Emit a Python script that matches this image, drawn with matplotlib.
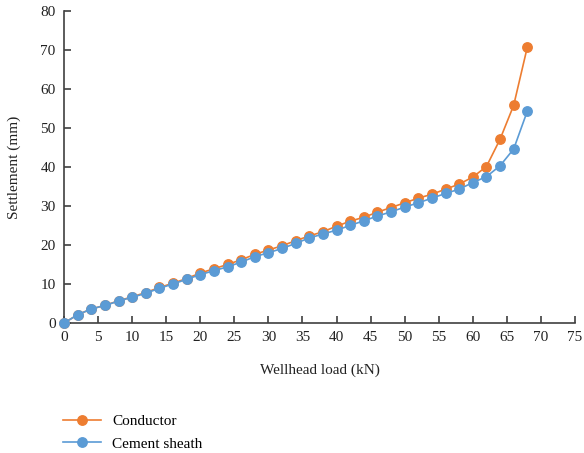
import matplotlib
matplotlib.use("Agg")
import matplotlib.pyplot as plt

# wellhead load (kN)
load = [0, 2, 4, 6, 8, 10, 12, 14, 16, 18, 20, 22, 24, 26, 28, 30, 32, 34,
        36, 38, 40, 42, 44, 46, 48, 50, 52, 54, 56, 58, 60, 62, 64, 66, 68]

# settlement (mm)
conductor = [0.0, 2.1, 3.6, 4.5, 5.7, 6.7, 7.8, 9.1, 10.2, 11.4, 12.8, 13.9,
             15.0, 16.2, 17.6, 18.7, 19.8, 21.1, 22.3, 23.4, 24.8, 26.1,
             27.1, 28.4, 29.6, 30.8, 32.0, 33.0, 34.3, 35.6, 37.4, 40.1,
             47.1, 55.8, 70.7]
cement_sheath = [0.0, 2.1, 3.6, 4.5, 5.6, 6.6, 7.6, 8.9, 10.0, 11.2, 12.4, 13.4,
                 14.4, 15.6, 17.0, 18.0, 19.1, 20.4, 21.8, 22.8, 23.8, 25.0,
                 26.2, 27.4, 28.5, 29.7, 30.8, 32.0, 33.2, 34.3, 36.0, 37.5,
                 40.3, 44.6, 54.3]

plt.rcParams['font.family'] = ['Liberation Serif', 'DejaVu Serif']

fig = plt.figure(figsize=(5.84, 4.53), dpi=100)
ax = fig.add_axes([0.1096, 0.287, 0.875, 0.689])

l1, = ax.plot(load, conductor, color='#ED7D31', marker='o', markersize=6.8,
              linewidth=1.2, label='Conductor', clip_on=False, zorder=3)
l2, = ax.plot(load, cement_sheath, color='#5B9BD5', marker='o', markersize=6.8,
              linewidth=1.2, label='Cement sheath', clip_on=False, zorder=4)

ax.set_xlim(0, 75)
ax.set_ylim(0, 80)
ax.set_xticks(range(0, 76, 5))
ax.set_yticks(range(0, 81, 10))
ax.spines['top'].set_visible(False)
ax.spines['right'].set_visible(False)
for s in ('left', 'bottom'):
    ax.spines[s].set_color('#404040')
    ax.spines[s].set_linewidth(1.2)
ax.tick_params(direction='in', length=5, width=1.2, color='#404040',
               labelsize=11, labelcolor='#222222', pad=6)
ax.set_xlabel('Wellhead load (kN)', fontsize=11, color='#222222', labelpad=14)
ax.set_ylabel('Settlement (mm)', fontsize=11, color='#222222', labelpad=14)

fig.legend(handles=[l1, l2], loc='upper left', bbox_to_anchor=(0.097, 0.098),
           frameon=False, fontsize=11, handlelength=2.5, handletextpad=0.75,
           labelspacing=0.55, borderaxespad=0)

fig.savefig('out.png', dpi=100)
